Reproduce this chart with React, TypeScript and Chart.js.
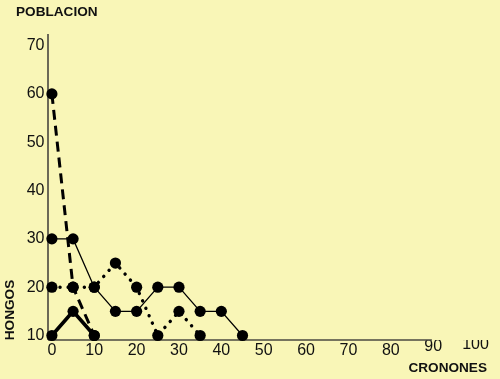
import { useEffect, useRef } from "react";
import { Chart, registerables } from "chart.js";

Chart.register(...registerables);

// ---- data ----
const cronones = [0, 5, 10, 15, 20, 25, 30, 35, 40, 45];
const serieDiscontinua = [60, 20, 10];
const serieFina = [30, 30, 20, 15, 15, 20, 20, 15, 15, 10];
const seriePunteada = [20, 20, 20, 25, 20, 10, 15, 10];
const serieGruesa = [10, 15, 10];
const xTicks = [0, 10, 20, 30, 40, 50, 60, 70, 80, 90, 100];
const yTicks = [10, 20, 30, 40, 50, 60, 70];
const tituloY = "POBLACION";
const tituloX = "CRONONES";
const tituloLado = "HONGOS";

const X_MIN = -0.92;
const X_MAX = 100;
const X_AXIS_END = 89.7;
const Y_MIN = 9.07;
const Y_MAX = 72.4;

const BG = "#f9f6b7";
const FONT = "'Liberation Sans', Arial, Helvetica, sans-serif";

const toPoints = (ys: number[]) => ys.map((y, i) => ({ x: cronones[i], y }));

const decor = {
  id: "decor",
  beforeDraw(chart: any) {
    const ctx = chart.ctx;
    ctx.save();
    ctx.fillStyle = BG;
    ctx.fillRect(0, 0, chart.width, chart.height);
    ctx.restore();
  },
  beforeDatasetsDraw(chart: any) {
    const ctx = chart.ctx;
    const xs = chart.scales.x;
    const ys = chart.scales.y;
    const x0 = xs.getPixelForValue(X_MIN);
    const x1 = xs.getPixelForValue(X_AXIS_END);
    const y0 = ys.getPixelForValue(Y_MIN);
    const y1 = ys.getPixelForValue(Y_MAX);
    ctx.save();
    ctx.strokeStyle = "#5c5a4c";
    ctx.lineWidth = 1.8;
    ctx.beginPath();
    ctx.moveTo(x0, y1);
    ctx.lineTo(x0, y0);
    ctx.stroke();
    ctx.lineWidth = 1.6;
    ctx.strokeStyle = "#4a4840";
    ctx.beginPath();
    ctx.moveTo(x0, y0);
    ctx.lineTo(x1, y0);
    ctx.stroke();
    ctx.restore();
  },
  afterDraw(chart: any) {
    const ctx = chart.ctx;
    ctx.save();
    ctx.fillStyle = "#111";
    ctx.font = `bold 13.6px ${FONT}`;
    ctx.textBaseline = "middle";
    ctx.textAlign = "left";
    ctx.fillText(tituloY, 16, 12);
    ctx.textAlign = "right";
    ctx.fillText(tituloX, 487, 368);
    ctx.translate(10, 310);
    ctx.rotate(-Math.PI / 2);
    ctx.textAlign = "center";
    ctx.fillText(tituloLado, 0, 0);
    ctx.restore();
  },
};

export default function App() {
  const ref = useRef<HTMLCanvasElement | null>(null);

  useEffect(() => {
    document.body.style.margin = "0";
    document.body.style.background = BG;
    const canvas = ref.current;
    if (!canvas) return;
    const pointStyle = {
      pointRadius: 5.6,
      pointHoverRadius: 5.6,
      pointBackgroundColor: "#000",
      pointBorderColor: "#000",
      pointBorderWidth: 0,
      borderColor: "#000",
      tension: 0,
      clip: false as any,
    };
    const chart = new Chart(canvas, {
      type: "line",
      data: {
        datasets: [
          {
            label: "fina",
            data: toPoints(serieFina),
            borderWidth: 1.3,
            ...pointStyle,
          },
          {
            label: "punteada",
            data: toPoints(seriePunteada),
            borderWidth: 3.4,
            borderDash: [0.1, 8],
            borderCapStyle: "round",
            ...pointStyle,
          },
          {
            label: "gruesa",
            data: toPoints(serieGruesa),
            borderWidth: 3.6,
            ...pointStyle,
          },
          {
            label: "discontinua",
            data: toPoints(serieDiscontinua),
            borderWidth: 3,
            borderDash: [10, 6],
            ...pointStyle,
          },
        ],
      },
      options: {
        animation: false,
        responsive: false,
        devicePixelRatio: 1,
        layout: { padding: { left: 0, right: 24.5, top: 34, bottom: 0 } },
        plugins: {
          legend: { display: false },
          tooltip: { enabled: false },
          title: { display: false },
        },
        scales: {
          x: {
            type: "linear",
            min: X_MIN,
            max: X_MAX,
            grid: { display: false, drawTicks: false },
            border: { display: false },
            afterBuildTicks: (axis: any) => {
              axis.ticks = xTicks.map((v) => ({ value: v }));
            },
            afterFit: (scale: any) => {
              scale.height = 39;
            },
            ticks: {
              autoSkip: false,
              maxRotation: 0,
              minRotation: 0,
              padding: 1,
              color: "#111",
              font: (ctx: any) => {
                const v = ctx.tick ? ctx.tick.value : 0;
                const lh = v === 100 ? "7px" : v === 90 ? "12px" : "19.2px";
                return { family: FONT, size: 16, lineHeight: lh } as any;
              },
            },
          },
          y: {
            type: "linear",
            min: Y_MIN,
            max: Y_MAX,
            grid: { display: false, drawTicks: false },
            border: { display: false },
            afterBuildTicks: (axis: any) => {
              axis.ticks = yTicks.map((v) => ({ value: v }));
            },
            afterFit: (scale: any) => {
              scale.width = 48;
            },
            ticks: {
              autoSkip: false,
              padding: 3.5,
              color: "#111",
              font: { family: FONT, size: 16 },
            },
          },
        },
      },
      plugins: [decor],
    });
    return () => chart.destroy();
  }, []);

  return (
    <div style={{ position: "absolute", left: 0, top: 0, width: 500, height: 379 }}>
      <canvas ref={ref} width={500} height={379} style={{ width: 500, height: 379, display: "block" }} />
    </div>
  );
}
